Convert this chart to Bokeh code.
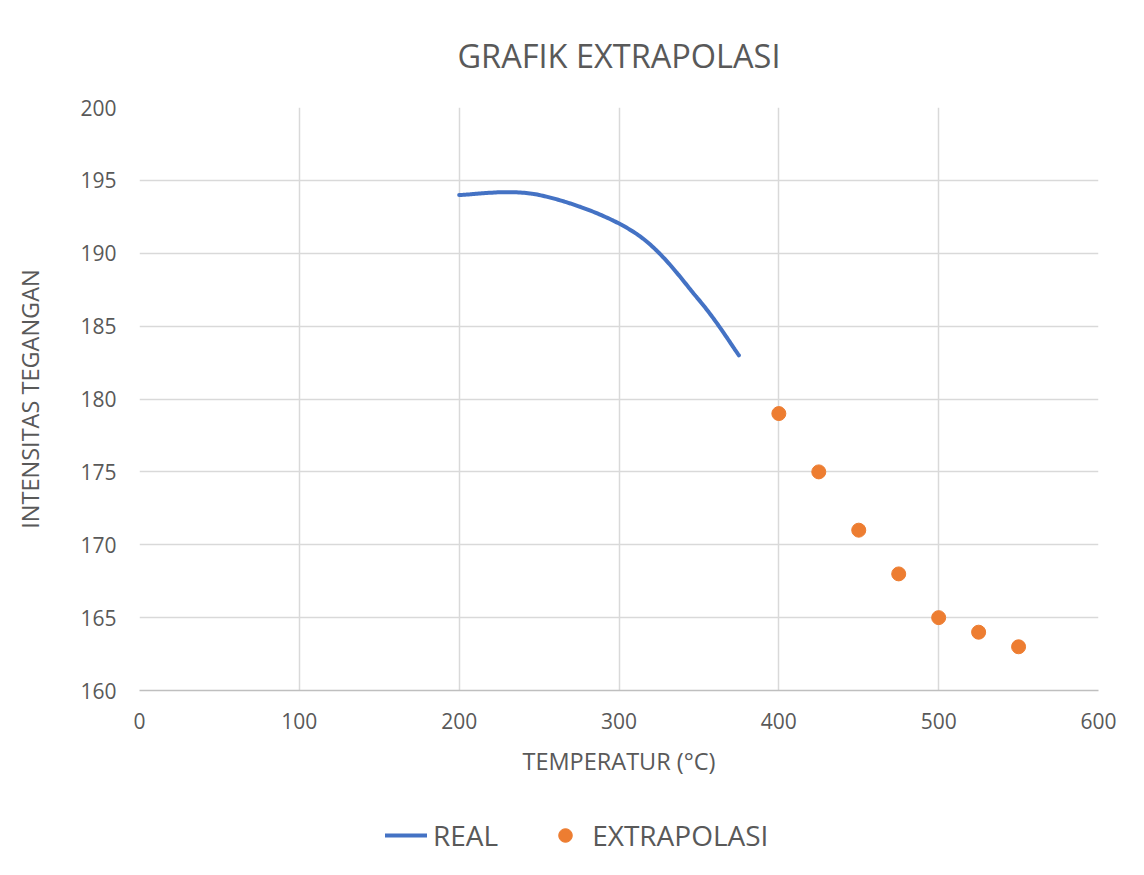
import numpy as np
from bokeh.plotting import figure
from bokeh.layouts import column
from bokeh.models import Legend, LegendItem, Title, Range1d, FixedTicker, ColumnDataSource
from bokeh.embed import file_html
from bokeh.resources import INLINE

# ---- data ----
real_temp = [200, 250, 310, 350, 375]
real_val = [194.0, 194.0, 191.4, 186.8, 183.0]
extra_temp = [400, 425, 450, 475, 500, 525, 550]
extra_val = [179, 175, 171, 168, 165, 164, 163]
x_ticks = [0, 100, 200, 300, 400, 500, 600]
y_ticks = [160, 165, 170, 175, 180, 185, 190, 195, 200]

FONT = "Open Sans"
GREY = "#595959"
BLUE = "#4472C4"
ORANGE = "#ED7D31"


def smooth(xs, ys, n=50):
    """Excel-like smoothed line (cardinal Bezier through the data points)."""
    pts = list(zip(xs, ys))
    ox, oy = [], []
    for i in range(len(pts) - 1):
        p0 = pts[i - 1] if i > 0 else pts[i]
        p1 = pts[i]
        p2 = pts[i + 1]
        p3 = pts[i + 2] if i + 2 < len(pts) else pts[i + 1]
        c1 = (p1[0] + (p2[0] - p0[0]) / 6, p1[1] + (p2[1] - p0[1]) / 6)
        c2 = (p2[0] - (p3[0] - p1[0]) / 6, p2[1] - (p3[1] - p1[1]) / 6)
        t = np.linspace(0, 1, n)
        bx = (1 - t) ** 3 * p1[0] + 3 * (1 - t) ** 2 * t * c1[0] + 3 * (1 - t) * t ** 2 * c2[0] + t ** 3 * p2[0]
        by = (1 - t) ** 3 * p1[1] + 3 * (1 - t) ** 2 * t * c1[1] + 3 * (1 - t) * t ** 2 * c2[1] + t ** 3 * p2[1]
        ox.extend(bx.tolist())
        oy.extend(by.tolist())
    return ox, oy


sx, sy = smooth(real_temp, real_val)

p = figure(width=1144, height=800, output_backend="svg", toolbar_location=None,
           x_range=Range1d(0, 600), y_range=Range1d(160, 200),
           min_border_left=139, min_border_right=46, min_border_top=107, min_border_bottom=110)
p.outline_line_color = None
p.background_fill_color = "white"
p.border_fill_color = "white"

for ax in (p.xaxis[0], p.yaxis[0]):
    ax.major_tick_line_color = None
    ax.minor_tick_line_color = None
    ax.major_label_text_font = FONT
    ax.major_label_text_font_size = "21px"
    ax.major_label_text_color = GREY
    ax.axis_label_text_font = FONT
    ax.axis_label_text_font_size = "23.5px"
    ax.axis_label_text_color = GREY
    ax.axis_label_text_font_style = "normal"

p.xaxis.ticker = FixedTicker(ticks=x_ticks)
p.yaxis.ticker = FixedTicker(ticks=y_ticks)
p.xaxis.axis_line_color = "#bfbfbf"
p.xaxis.axis_line_width = 1.5
p.yaxis.axis_line_color = None
p.xaxis.major_label_standoff = 16
p.yaxis.major_label_standoff = 17
p.xaxis.axis_label = "TEMPERATUR (°C)"
p.yaxis.axis_label = "INTENSITAS TEGANGAN"
p.xaxis.axis_label_standoff = 13
p.yaxis.axis_label_standoff = 31

p.xgrid.ticker = FixedTicker(ticks=x_ticks)
p.ygrid.ticker = FixedTicker(ticks=y_ticks)
for g in (p.xgrid[0], p.ygrid[0]):
    g.grid_line_color = "#d9d9d9"
    g.grid_line_width = 1.5

real_src = ColumnDataSource(dict(x=sx, y=sy))
extra_src = ColumnDataSource(dict(x=extra_temp, y=extra_val))
p.line("x", "y", source=real_src, line_color=BLUE, line_width=4, line_cap="round")
p.scatter("x", "y", source=extra_src, size=14, fill_color=ORANGE, line_color=ORANGE)

title = Title(text="GRAFIK EXTRAPOLASI", align="center", text_font=FONT,
              text_font_size="32.5px", text_color=GREY, text_font_style="normal", standoff=60)
p.add_layout(title, "above")

# ---- legend strip below the chart (same series, drawn outside this strip's view) ----
lf = figure(width=1144, height=75, output_backend="svg", toolbar_location=None,
            x_range=Range1d(0, 1), y_range=Range1d(0, 1),
            min_border_left=0, min_border_right=0, min_border_top=0, min_border_bottom=0)
lf.axis.visible = False
lf.grid.visible = False
lf.outline_line_color = None
lf.border_fill_color = "white"
l_real = lf.line("x", "y", source=real_src, line_color=BLUE, line_width=4, line_cap="round")
l_extra = lf.scatter("x", "y", source=extra_src, size=14, fill_color=ORANGE, line_color=ORANGE)

legend = Legend(items=[LegendItem(label="REAL", renderers=[l_real]),
                       LegendItem(label="EXTRAPOLASI", renderers=[l_extra])],
                orientation="horizontal", location=(246, 21), margin=0, padding=0,
                glyph_width=42, glyph_height=34, label_standoff=6, spacing=46,
                label_text_font=FONT, label_text_font_size="28px", label_text_color=GREY,
                border_line_color=None, background_fill_alpha=0)
lf.add_layout(legend, "center")

layout = column(p, lf, spacing=0)
open("out.html", "w").write(file_html(layout, INLINE))
